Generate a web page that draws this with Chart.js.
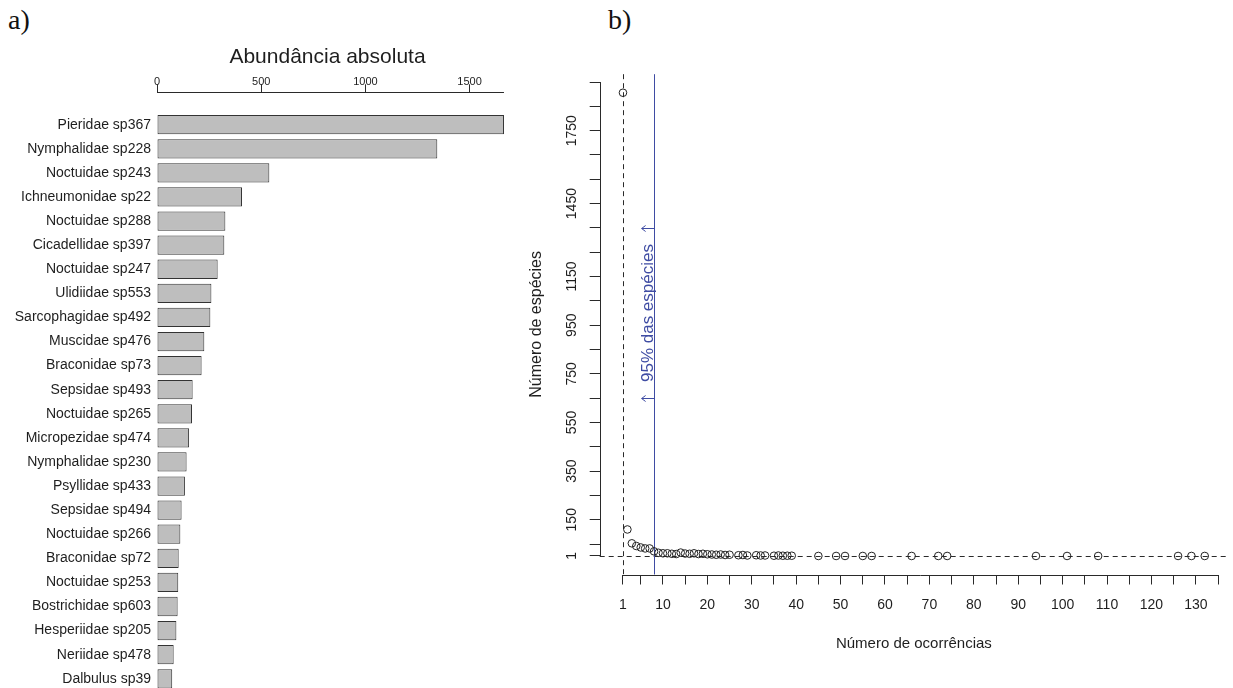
<!DOCTYPE html>
<html>
<head>
<meta charset="utf-8">
<script src="https://cdn.jsdelivr.net/npm/chart.js@4.4.1/dist/chart.umd.min.js"></script>
<style>
  html, body { margin:0; padding:0; background:#fff; width:1233px; height:688px; overflow:hidden; }
  .panel { position:absolute; font-family:"Liberation Serif", serif; font-size:28px; line-height:28px; color:#111; }
  canvas { position:absolute; top:0; }
</style>
</head>
<body>
<div class="panel" style="left:8px; top:6px;">a)</div>
<div class="panel" style="left:608px; top:6px;">b)</div>
<canvas id="ca" width="520" height="688" style="left:0px; width:520px; height:688px;"></canvas>
<canvas id="cb" width="713" height="688" style="left:520px; width:713px; height:688px;"></canvas>
<script>
// ---------- Panel a) data ----------
const speciesNames = [
  'Pieridae sp367','Nymphalidae sp228','Noctuidae sp243','Ichneumonidae sp22','Noctuidae sp288',
  'Cicadellidae sp397','Noctuidae sp247','Ulidiidae sp553','Sarcophagidae sp492','Muscidae sp476',
  'Braconidae sp73','Sepsidae sp493','Noctuidae sp265','Micropezidae sp474','Nymphalidae sp230',
  'Psyllidae sp433','Sepsidae sp494','Noctuidae sp266','Braconidae sp72','Noctuidae sp253',
  'Bostrichidae sp603','Hesperiidae sp205','Neriidae sp478','Dalbulus sp39'
];
const abundance = [1665,1345,539,408,328,323,291,261,256,227,214,171,168,154,142,134,118,112,104,102,99,93,80,73];
const abundanceTicks = [0,500,1000,1500];

// ---------- Panel b) data ----------
const occurrences = [1,2,3,4,5,6,7,8,9,10,11,12,13,14,15,16,17,18,19,20,21,22,23,24,25,27,28,29,31,32,33,35,36,37,38,39,45,49,51,55,57,66,72,74,94,101,108,126,129,132];
const speciesCount = [1906,110,53,42,36,32,32,20,14,12,12,10,9,15,11,10,12,9,10,8,7,6,7,5,6,4,5,3,4,3,3,2,3,2,2,2,1,1,1,1,1,1,1,1,1,1,1,1,1,1];
const xTickValues = [1,5,10,15,20,25,30,35,40,45,50,55,60,65,70,75,80,85,90,95,100,105,110,115,120,125,130,135];
const xLabelValues = [1,10,20,30,40,50,60,70,80,90,100,110,120,130];
const yTickValues = [1,50,150,250,350,450,550,650,750,850,950,1050,1150,1250,1350,1450,1550,1650,1750,1850,1950];
const yLabelValues = [1,150,350,550,750,950,1150,1450,1750];
const dashedX = 1;          // vertical dashed reference line
const dashedY = 1;          // horizontal dashed reference line
const cutoffX = 8;          // blue line (95% of species)
const arrowYs = [1350, 650];
const arrowTipX = 5.2;
const noteText = '95% das espécies';
const noteY = 1000;

const FONT = '"Liberation Sans", Arial, sans-serif';
const TXT = '#1e1e1e';
const AX = '#2a2a2a';
const BLUE = '#3f4ca3';
Chart.defaults.font.family = FONT;
Chart.defaults.color = TXT;

function fixV(width) { return s => { s.width = width; s.paddingTop = 0; s.paddingBottom = 0; }; }
function fixH(height) { return s => { s.height = height; s.paddingLeft = 0; s.paddingRight = 0; }; }

// ---------- Panel a) chart ----------
const axisLineA = {
  id: 'axisLineA',
  afterDraw(chart) {
    const {ctx, chartArea} = chart;
    const x = chart.scales.x;
    const y = Math.round(chartArea.top) + 0.5;
    ctx.save();
    ctx.strokeStyle = AX; ctx.lineWidth = 1;
    ctx.beginPath();
    ctx.moveTo(x.getPixelForValue(abundanceTicks[0]), y);
    ctx.lineTo(x.getPixelForValue(Math.max(...abundance)), y);
    ctx.stroke();
    ctx.restore();
  }
};

new Chart(document.getElementById('ca'), {
  type: 'bar',
  data: {
    datasets: [{
      data: abundance.map((v, i) => ({x: v, y: i})),
      backgroundColor: '#bebebe',
      borderColor: '#333',
      borderWidth: 1,
      borderSkipped: false,
      barPercentage: 0.8,
      categoryPercentage: 1,
      clip: false
    }]
  },
  options: {
    indexAxis: 'y',
    responsive: false,
    animation: false,
    devicePixelRatio: 1,
    layout: { padding: { top: 0, left: 0, right: 22, bottom: 0 } },
    plugins: { legend: { display: false }, tooltip: { enabled: false } },
    scales: {
      x: {
        type: 'linear', position: 'top', min: 0, max: 1636.3,
        afterBuildTicks: s => { s.ticks = abundanceTicks.map(v => ({value: v})); },
        afterFit: fixH(92.3),
        grid: { drawOnChartArea: false, drawTicks: true, tickLength: 8, color: AX, lineWidth: 1 },
        border: { display: false },
        ticks: { callback: v => String(v), font: { size: 11 }, color: TXT, padding: -4, autoSkip: false, maxRotation: 0 },
        title: { display: true, text: 'Abundância absoluta', font: { size: 21 }, color: TXT, padding: { top: 44.4, bottom: 0 } }
      },
      y: {
        type: 'linear', reverse: true, offset: false, min: -1.345, max: 23.383,
        afterBuildTicks: s => { s.ticks = speciesNames.map((_, i) => ({value: i})); },
        afterFit: fixV(157),
        grid: { display: false, drawTicks: false, offset: false },
        border: { display: false },
        ticks: { callback: v => speciesNames[v], font: { size: 14 }, color: TXT, padding: 6, autoSkip: false }
      }
    }
  },
  plugins: [axisLineA]
});

// ---------- Panel b) chart ----------
const refLines = {
  id: 'refLines',
  beforeDatasetsDraw(chart) {
    const {ctx, chartArea} = chart;
    const xs = chart.scales.x, ys = chart.scales.y;
    ctx.save();
    ctx.strokeStyle = AX; ctx.lineWidth = 1; ctx.setLineDash([5, 4]);
    const vx = Math.round(xs.getPixelForValue(dashedX)) + 0.5;
    ctx.beginPath(); ctx.moveTo(vx, chartArea.top); ctx.lineTo(vx, chartArea.bottom); ctx.stroke();
    const hy = Math.round(ys.getPixelForValue(dashedY)) + 0.5;
    ctx.beginPath(); ctx.moveTo(chartArea.left, hy); ctx.lineTo(chartArea.right, hy); ctx.stroke();
    ctx.setLineDash([]);
    ctx.strokeStyle = BLUE;
    const bx = Math.round(xs.getPixelForValue(cutoffX)) + 0.5;
    ctx.beginPath(); ctx.moveTo(bx, chartArea.top); ctx.lineTo(bx, chartArea.bottom); ctx.stroke();
    const tip = xs.getPixelForValue(arrowTipX);
    arrowYs.forEach(v => {
      const ay = Math.round(ys.getPixelForValue(v)) + 0.5;
      ctx.beginPath(); ctx.moveTo(bx, ay); ctx.lineTo(tip, ay);
      ctx.moveTo(tip + 4, ay - 3); ctx.lineTo(tip, ay); ctx.lineTo(tip + 4, ay + 3);
      ctx.stroke();
    });
    ctx.fillStyle = BLUE;
    ctx.font = '17px ' + FONT;
    ctx.textAlign = 'center'; ctx.textBaseline = 'middle';
    ctx.translate((tip + bx) / 2, ys.getPixelForValue(noteY));
    ctx.rotate(-Math.PI / 2);
    ctx.fillText(noteText, 0, 0);
    ctx.restore();
  },
  afterDraw(chart) {
    const {ctx, chartArea} = chart;
    const xs = chart.scales.x, ys = chart.scales.y;
    ctx.save();
    ctx.strokeStyle = AX; ctx.lineWidth = 1;
    const by = Math.round(chartArea.bottom) + 0.5;
    ctx.beginPath();
    ctx.moveTo(xs.getPixelForValue(xTickValues[0]), by);
    ctx.lineTo(xs.getPixelForValue(xTickValues[xTickValues.length - 1]), by);
    ctx.stroke();
    const lx = Math.round(chartArea.left) + 0.5;
    ctx.beginPath();
    ctx.moveTo(lx, ys.getPixelForValue(yTickValues[0]));
    ctx.lineTo(lx, ys.getPixelForValue(yTickValues[yTickValues.length - 1]));
    ctx.stroke();
    ctx.restore();
  }
};

new Chart(document.getElementById('cb'), {
  type: 'scatter',
  data: {
    datasets: [{
      data: occurrences.map((x, i) => ({x: x, y: speciesCount[i]})),
      pointRadius: 3.8,
      pointBorderWidth: 1,
      pointBorderColor: '#222',
      pointBackgroundColor: 'rgba(0,0,0,0)',
      showLine: false
    }]
  },
  options: {
    responsive: false,
    animation: false,
    devicePixelRatio: 1,
    layout: { padding: { top: 74.2, left: 0, right: 0.8, bottom: 0 } },
    plugins: { legend: { display: false }, tooltip: { enabled: false } },
    scales: {
      x: {
        type: 'linear', position: 'bottom', min: -4.24, max: 137.24,
        afterBuildTicks: s => { s.ticks = xTickValues.map(v => ({value: v})); },
        afterFit: fixH(113.5),
        grid: { drawOnChartArea: false, drawTicks: true, tickLength: 10, color: AX },
        border: { display: false },
        ticks: {
          callback: v => xLabelValues.includes(v) ? String(v) : '',
          font: { size: 14 }, color: TXT, padding: 12, autoSkip: false, maxRotation: 0
        },
        title: { display: true, text: 'Número de ocorrências', font: { size: 15 }, color: TXT, padding: { top: 0, bottom: 35 } }
      },
      y: {
        type: 'linear', position: 'left', min: -75.2, max: 1982.2,
        afterBuildTicks: s => { s.ticks = yTickValues.map(v => ({value: v})); },
        afterFit: fixV(79.7),
        grid: { drawOnChartArea: false, drawTicks: true, tickLength: 10, color: AX },
        border: { display: false },
        ticks: {
          callback: v => yLabelValues.includes(v) ? String(v) : '',
          font: { size: 14 }, color: TXT, padding: 1.7, autoSkip: false,
          minRotation: 90, maxRotation: 90, crossAlign: 'center'
        },
        title: { display: true, text: 'Número de espécies', font: { size: 16 }, color: TXT, padding: { top: 7.4, bottom: 0 } }
      }
    }
  },
  plugins: [refLines]
});
</script>
</body>
</html>
